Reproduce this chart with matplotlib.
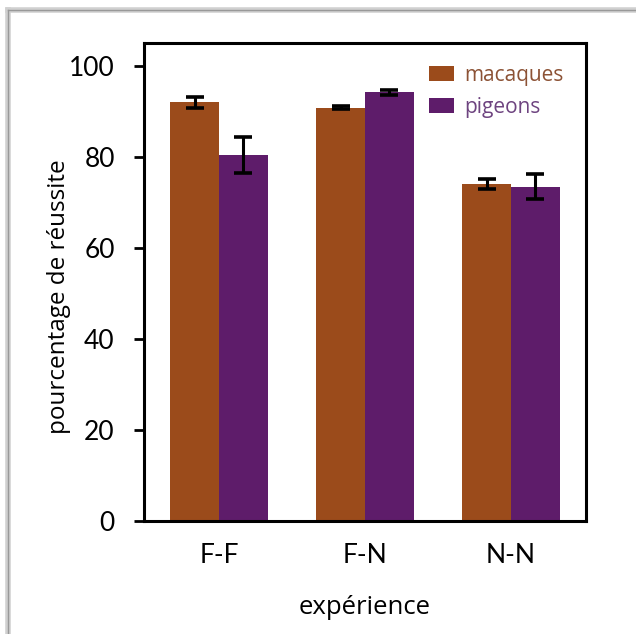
import matplotlib
matplotlib.use("Agg")
import matplotlib.pyplot as plt
from matplotlib.lines import Line2D
import numpy as np

# data
experiences = ["F-F", "F-N", "N-N"]
macaques = [92.0, 90.8, 74.0]
macaques_err = [1.2, 0.3, 1.1]
pigeons = [80.4, 94.2, 73.5]
pigeons_err = [4.0, 0.5, 2.7]
yticks = [0, 20, 40, 60, 80, 100]

brown = "#9B4B1B"
purple = "#5E1C6A"

plt.rcParams["font.family"] = ["Lato", "DejaVu Sans"]
label_font = ["Open Sans", "DejaVu Sans"]

fig = plt.figure(figsize=(6.36, 6.34), dpi=100)
ax = fig.add_axes([0.2264, 0.178, 0.695, 0.754])

x = np.arange(len(experiences))
w = 0.333
err_kw = dict(ecolor="black", elinewidth=2.2, capsize=6.5, capthick=2.6)
ax.bar(x - w / 2, macaques, w, yerr=macaques_err, color=brown, label="macaques", error_kw=err_kw)
ax.bar(x + w / 2, pigeons, w, yerr=pigeons_err, color=purple, label="pigeons", error_kw=err_kw)

ax.set_xlim(-0.514, 2.514)
ax.set_ylim(0, 105)
ax.set_xticks(x)
ax.set_xticklabels(experiences, fontsize=19)
ax.set_yticks(yticks)
ax.tick_params(axis="y", labelsize=19, length=7, width=2, pad=14)
ax.tick_params(axis="x", length=0, pad=16)
for s in ax.spines.values():
    s.set_linewidth(2.2)

ax.set_ylabel("pourcentage de réussite", fontsize=17.5, family=label_font)
ax.yaxis.set_label_coords(-0.165, 0.47)
ax.set_xlabel("expérience", fontsize=18.5, labelpad=19, family=label_font)

leg = ax.legend(loc="upper left", frameon=False, handlelength=1.2,
                handleheight=0.7, handletextpad=0.5, labelspacing=0.55,
                borderpad=0, borderaxespad=0, bbox_to_anchor=(0.645, 0.955),
                prop={"family": label_font, "size": 15})
for t, c in zip(leg.get_texts(), ["#8C5235", "#6E4480"]):
    t.set_color(c)

# grey frame like the screenshot border
fig.add_artist(Line2D([0.013, 0.013], [0.0, 0.984], color="#d0d0d0", lw=4, transform=fig.transFigure))
fig.add_artist(Line2D([0.013, 1.0], [0.984, 0.984], color="#d0d0d0", lw=4, transform=fig.transFigure))
fig.add_artist(Line2D([0.013, 0.013], [0.0, 0.984], color="#999999", lw=1, transform=fig.transFigure))
fig.add_artist(Line2D([0.013, 1.0], [0.984, 0.984], color="#999999", lw=1, transform=fig.transFigure))

fig.savefig("out.png", dpi=100)
